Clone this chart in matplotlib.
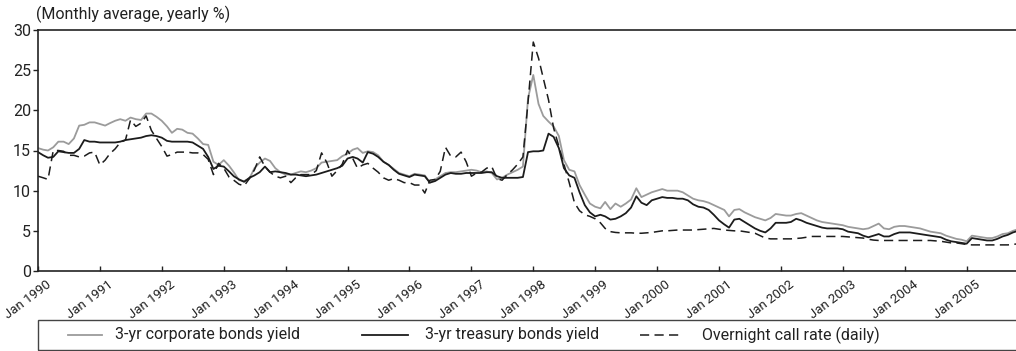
import matplotlib
matplotlib.use("Agg")
import matplotlib.pyplot as plt
import matplotlib.dates as mdates
from matplotlib.lines import Line2D
from matplotlib.patches import Rectangle
from matplotlib.transforms import ScaledTranslation
import pandas as pd

plt.rcParams['font.family'] = ['Roboto', 'DejaVu Sans']

# Monthly averages, Jan 1990 - Nov 2005 (yearly %)
corporate = [
    15.3, 15.1, 15.0, 15.4, 16.1, 16.1, 15.8, 16.5, 18.1, 18.2, 18.5, 18.5,   # 1990
    18.3, 18.1, 18.4, 18.7, 18.9, 18.7, 19.1, 18.9, 18.8, 19.6, 19.6, 19.2,   # 1991
    18.7, 18.0, 17.2, 17.7, 17.6, 17.2, 17.1, 16.5, 15.8, 15.7, 13.6, 13.2,   # 1992
    13.8, 13.1, 12.3, 11.3, 11.2, 11.5, 12.8, 13.5, 14.0, 13.7, 12.8, 12.3,   # 1993
    12.0, 12.0, 12.2, 12.4, 12.3, 12.5, 12.8, 13.5, 13.6, 13.7, 13.8, 14.3,   # 1994
    14.6, 15.1, 15.3, 14.7, 14.9, 14.8, 14.4, 13.6, 13.2, 12.7, 12.2, 12.0,   # 1995
    11.8, 12.1, 12.0, 11.9, 11.0, 11.4, 11.8, 12.2, 12.3, 12.3, 12.4, 12.5,   # 1996
    12.6, 12.5, 12.3, 12.4, 12.2, 11.4, 11.6, 12.0, 12.3, 12.6, 13.0, 21.5,   # 1997
    24.4, 20.8, 19.3, 18.6, 18.0, 16.8, 13.8, 12.6, 12.4, 10.7, 9.5, 8.4,     # 1998
    8.0, 7.8, 8.6, 7.7, 8.4, 8.0, 8.4, 8.9, 10.3, 9.2, 9.5, 9.8,              # 1999
    10.0, 10.2, 10.0, 10.0, 10.0, 9.8, 9.4, 9.0, 8.8, 8.7, 8.5, 8.2,          # 2000
    7.9, 7.6, 6.8, 7.6, 7.7, 7.3, 7.0, 6.7, 6.5, 6.3, 6.6, 7.1,               # 2001
    7.0, 6.9, 6.9, 7.1, 7.2, 6.9, 6.6, 6.3, 6.1, 6.0, 5.9, 5.8,               # 2002
    5.7, 5.5, 5.4, 5.3, 5.2, 5.3, 5.6, 5.9, 5.3, 5.2, 5.5, 5.6,               # 2003
    5.6, 5.5, 5.4, 5.3, 5.1, 4.9, 4.8, 4.7, 4.4, 4.2, 4.0, 3.9,               # 2004
    3.7, 4.4, 4.3, 4.2, 4.1, 4.1, 4.3, 4.6, 4.7, 5.0, 5.2,                    # 2005
]
treasury = [
    14.8, 14.4, 14.1, 14.2, 14.9, 14.8, 14.7, 14.7, 15.2, 16.3, 16.1, 16.1,   # 1990
    16.0, 16.0, 16.0, 16.0, 16.1, 16.3, 16.4, 16.5, 16.6, 16.8, 16.9, 16.8,   # 1991
    16.6, 16.2, 16.1, 16.1, 16.1, 16.1, 16.0, 15.6, 15.2, 14.2, 12.7, 13.1,   # 1992
    13.0, 12.4, 11.8, 11.4, 11.1, 11.6, 11.9, 12.3, 13.0, 12.3, 12.4, 12.3,   # 1993
    12.2, 12.0, 12.0, 11.9, 11.8, 11.9, 12.0, 12.2, 12.4, 12.6, 12.8, 13.1,   # 1994
    14.0, 14.2, 14.0, 13.5, 14.8, 14.6, 14.2, 13.6, 13.2, 12.6, 12.1, 11.9,   # 1995
    11.7, 12.0, 11.9, 11.8, 11.0, 11.2, 11.6, 12.0, 12.2, 12.1, 12.1, 12.2,   # 1996
    12.2, 12.2, 12.2, 12.3, 12.3, 11.8, 11.6, 11.6, 11.6, 11.6, 11.7, 14.8,   # 1997
    14.9, 14.9, 15.0, 17.1, 16.7, 15.3, 12.8, 11.9, 11.6, 9.8, 8.2, 7.3,      # 1998
    6.8, 7.0, 6.8, 6.4, 6.5, 6.8, 7.2, 7.9, 9.3, 8.5, 8.2, 8.8,               # 1999
    9.0, 9.2, 9.1, 9.1, 9.0, 9.0, 8.8, 8.3, 8.0, 7.9, 7.6, 7.0,               # 2000
    6.3, 5.8, 5.4, 6.4, 6.5, 6.1, 5.7, 5.3, 5.0, 4.8, 5.3, 6.0,               # 2001
    6.0, 6.0, 6.1, 6.5, 6.3, 6.0, 5.8, 5.6, 5.4, 5.3, 5.3, 5.3,               # 2002
    5.2, 4.9, 4.8, 4.7, 4.4, 4.2, 4.4, 4.6, 4.3, 4.3, 4.6, 4.8,               # 2003
    4.8, 4.8, 4.7, 4.6, 4.5, 4.4, 4.3, 4.2, 3.9, 3.7, 3.6, 3.5,               # 2004
    3.4, 4.1, 4.0, 3.9, 3.8, 3.8, 4.0, 4.3, 4.5, 4.8, 5.0,                    # 2005
]
call_rate = [
    11.8, 11.6, 11.4, 15.0, 15.0, 14.9, 14.4, 14.4, 14.2, 14.3, 14.7, 14.8,   # 1990
    13.2, 13.8, 14.6, 15.2, 16.0, 16.3, 18.8, 18.0, 18.4, 19.3, 17.5, 16.5,   # 1991
    15.5, 14.3, 14.5, 14.8, 14.8, 14.8, 14.7, 14.7, 14.5, 13.9, 12.0, 13.4,   # 1992
    12.8, 11.7, 11.3, 10.8, 10.6, 11.5, 12.6, 14.2, 13.0, 12.3, 11.8, 11.6,   # 1993
    11.8, 11.0, 11.6, 12.0, 12.0, 12.0, 12.5, 14.7, 13.5, 11.8, 12.5, 13.3,   # 1994
    15.0, 14.0, 12.8, 13.2, 13.4, 12.8, 12.3, 11.6, 11.3, 11.5, 11.3, 11.0,   # 1995
    11.0, 10.7, 10.7, 9.7, 11.3, 11.4, 12.4, 15.4, 14.3, 14.2, 14.8, 13.6,    # 1996
    11.8, 12.2, 12.3, 12.8, 13.0, 11.5, 11.3, 12.0, 12.6, 13.3, 14.2, 21.0,   # 1997
    28.5, 26.5, 24.0, 21.3, 17.8, 15.5, 13.3, 11.0, 8.5, 7.5, 7.0, 6.8,       # 1998
    6.5, 6.0, 5.3, 4.9, 4.8, 4.75, 4.75, 4.75, 4.7, 4.7, 4.75, 4.8,           # 1999
    4.9, 5.0, 5.0, 5.05, 5.1, 5.1, 5.1, 5.1, 5.15, 5.2, 5.25, 5.3,            # 2000
    5.2, 5.1, 5.05, 5.0, 5.0, 4.9, 4.8, 4.7, 4.4, 4.1, 4.0, 4.0,              # 2001
    4.0, 4.0, 4.0, 4.05, 4.1, 4.2, 4.3, 4.3, 4.3, 4.3, 4.3, 4.3,              # 2002
    4.3, 4.25, 4.2, 4.15, 4.1, 3.95, 3.85, 3.8, 3.8, 3.8, 3.8, 3.8,           # 2003
    3.8, 3.8, 3.8, 3.8, 3.8, 3.8, 3.75, 3.7, 3.6, 3.5, 3.5, 3.4,              # 2004
    3.3, 3.25, 3.25, 3.25, 3.25, 3.25, 3.25, 3.25, 3.25, 3.3, 3.4,            # 2005
]
labels = ['3-yr corporate bonds yield', '3-yr treasury bonds yield', 'Overnight call rate (daily)']

dates = pd.date_range('1990-01-01', periods=len(corporate), freq='MS')

W, H = 1016, 351
fig = plt.figure(figsize=(W / 100, H / 100), dpi=100)
ax = fig.add_axes([38 / W, 1 - 271 / H, 1 - 38 / W, 241 / H])

gray, dark = '#9b9b9b', '#1c1c1c'
ax.plot(dates, corporate, color=gray, lw=1.3)
ax.plot(dates, treasury, color=dark, lw=1.3)
ax.plot(dates, call_rate, color=dark, lw=1.1, dashes=(6, 3.5))

ax.set_ylim(0, 30)
ax.set_yticks(range(0, 31, 5))
ax.set_xlim(pd.Timestamp('1990-01-01'), pd.Timestamp('2005-10-19'))
ax.xaxis.set_major_locator(mdates.YearLocator())
ax.xaxis.set_major_formatter(mdates.DateFormatter('%b %Y'))

for side in ['left', 'top', 'bottom']:
    ax.spines[side].set_linewidth(1.2)
    ax.spines[side].set_color('#222222')
ax.spines['right'].set_visible(False)

ax.tick_params(axis='y', direction='out', length=3.5, width=1, pad=1.5, labelsize=11.5, colors='#222222')
ax.tick_params(axis='x', direction='in', length=3.5, width=1, pad=5, labelsize=9.5, colors='#222222')
shift = ScaledTranslation(8 / 100, 0, fig.dpi_scale_trans)
for lbl in ax.get_xticklabels():
    lbl.set_rotation(37)
    lbl.set_ha('right')
    lbl.set_va('top')
    lbl.set_rotation_mode('anchor')
    lbl.set_transform(lbl.get_transform() + shift)

fig.text(36 / W, 1 - 14 / H, '(Monthly average, yearly %)', fontsize=11.5, va='center', ha='left', color='#222222')

# legend strip under the axes
fig.add_artist(Rectangle((38 / W, 1 / H), 1.0, 30 / H, transform=fig.transFigure,
                         fill=False, ec='#444444', lw=1.0))
ly = 1 - 335 / H
handles = [
    (68, 102, 115, dict(color=gray, lw=1.3)),
    (362, 408, 425, dict(color=dark, lw=1.3)),
    (640, 682, 702, dict(color=dark, lw=1.1, dashes=(6, 3.5))),
]
for (x0, x1, tx, style), text in zip(handles, labels):
    fig.add_artist(Line2D([x0 / W, x1 / W], [ly, ly], transform=fig.transFigure, **style))
    fig.text(tx / W, ly, text, fontsize=11.5, va='center', ha='left', color='#222222')

fig.savefig('out.png', dpi=100)
